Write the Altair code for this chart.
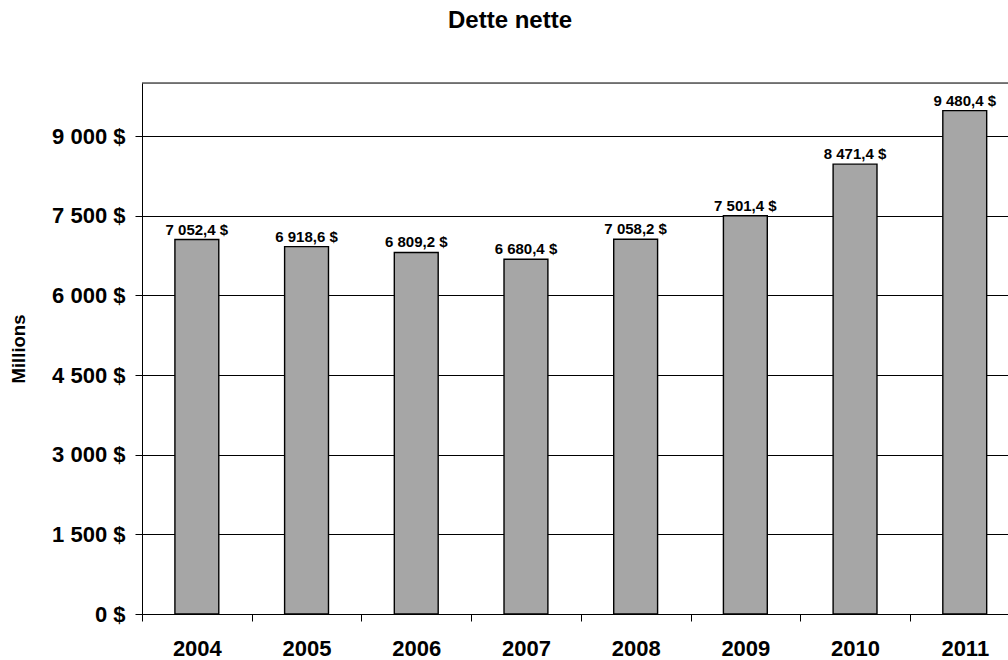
import json

import altair as alt
import pandas as pd

# Net debt, in millions of dollars
years = ["2004", "2005", "2006", "2007", "2008", "2009", "2010", "2011"]
debt = [7052.4, 6918.6, 6809.2, 6680.4, 7058.2, 7501.4, 8471.4, 9480.4]
y_ticks = [0, 1500, 3000, 4500, 6000, 7500, 9000]
y_max = 10000


def money_fr(v):
    """French-style money label: '7 052,4 $'."""
    return f"{v:,.1f}".replace(",", " ").replace(".", ",") + " $"


labels = [money_fr(v) for v in debt]

df = pd.DataFrame({
    "idx": list(range(len(years))),
    "year": years,
    "debt": debt,
    "label": labels,
})
top = pd.DataFrame({"top": [y_max]})

FONT = "Liberation Sans"
PLOT_W, PLOT_H = 866, 531
BAND_PX = 109.7
half_bar = 0.2

x_scale = alt.Scale(domain=[-0.5, -0.5 + PLOT_W / BAND_PX], nice=False, zero=False)
y_scale = alt.Scale(domain=[0, y_max], nice=False)

# category boundaries carry the ticks; labels are shifted to the band centres
boundaries = [i - 0.5 for i in range(len(years))]
x_axis = alt.Axis(
    values=boundaries,
    labelExpr=f"{json.dumps(years)}[round(datum.value + 0.5)]",
    labelOffset=BAND_PX / 2,
    labelFlush=False,
    labelOverlap=False,
    title=None,
    grid=False,
    domainColor="black",
    tickColor="black",
    tickSize=7,
    labelFont=FONT,
    labelFontSize=22,
    labelFontWeight="bold",
    labelColor="black",
    labelPadding=17,
)
y_axis = alt.Axis(
    values=y_ticks,
    labelExpr="replace(format(datum.value, ','), ',', ' ') + ' $'",
    labelOverlap=False,
    title="Millions",
    titleFont=FONT,
    titleFontSize=18.5,
    titleFontWeight="bold",
    titleColor="black",
    titlePadding=23,
    grid=True,
    gridColor="black",
    gridWidth=1,
    domainColor="black",
    tickColor="black",
    tickSize=7,
    labelFont=FONT,
    labelFontSize=22,
    labelFontWeight="bold",
    labelColor="black",
    labelPadding=10,
)

base = alt.Chart(df).transform_calculate(
    x0=f"datum.idx - {half_bar}", x1=f"datum.idx + {half_bar}"
)

bars = base.mark_bar(
    color="#A6A6A6", stroke="black", strokeWidth=1.4, clip=True
).encode(
    x=alt.X("x0:Q", scale=x_scale, axis=x_axis),
    x2="x1:Q",
    y=alt.Y("debt:Q", scale=y_scale, axis=y_axis),
    y2=alt.datum(0),
)

values_text = base.mark_text(
    font=FONT, fontSize=15, fontWeight="bold", color="black",
    baseline="alphabetic", dy=-5, clip=False,
).encode(
    x=alt.X("idx:Q", scale=x_scale, axis=x_axis),
    y=alt.Y("debt:Q", scale=y_scale, axis=y_axis),
    text="label:N",
)

top_border = alt.Chart(top).mark_rule(color="black", strokeWidth=1).encode(
    y=alt.Y("top:Q", scale=y_scale, axis=y_axis),
)

chart = (
    alt.layer(bars, values_text, top_border)
    .properties(
        width=PLOT_W,
        height=PLOT_H,
        padding={"left": 142, "top": 83, "right": 0, "bottom": 46},
        autosize=alt.AutoSizeParams(type="none"),
        title=alt.TitleParams(
            "Dette nette",
            font=FONT,
            fontSize=24,
            fontWeight="bold",
            color="black",
            anchor="middle",
            dx=-65,
            offset=50,
        ),
    )
    .configure_view(stroke=None)
    .configure(background="white")
)

chart.save("out.html", embed_options={"renderer": "svg", "actions": False})
